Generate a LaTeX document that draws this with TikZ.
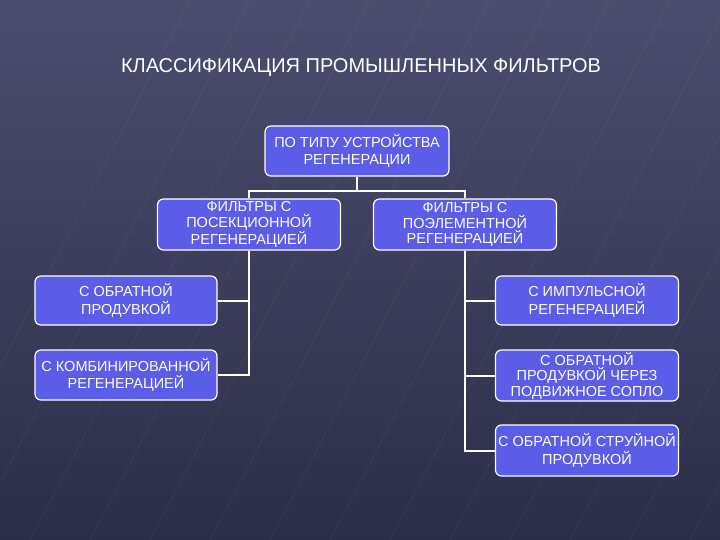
\documentclass[tikz,border=0pt]{standalone}
\usepackage{fontspec}
\setmainfont{Liberation Sans}
\begin{document}
\begin{tikzpicture}[x=1pt,y=-1pt,
  box/.style={draw=white,line width=1.2pt,rounded corners=6pt,fill=boxblue,text=white,
    minimum width=183pt,align=center,font=\fontsize{14.5}{15.5}\selectfont,inner sep=0pt},
  two/.style={font=\fontsize{14.5}{17.5}\selectfont},
  conn/.style={draw=white,line width=2pt}]
\definecolor{boxblue}{HTML}{5B5CE8}
\definecolor{bgtop}{HTML}{4A4D6E}
\definecolor{bgbot}{HTML}{2C2E48}
\shade[top color=bgtop,bottom color=bgbot] (0,0) rectangle (720,540);
\useasboundingbox (0,0) rectangle (720,540);
\foreach \i in {0,...,14}{
  \draw[white,opacity=0.05,line width=0.8pt] (-100+\i*60,560) -- (200+\i*60,-20);}
\node[text=white,font=\fontsize{20}{22}\selectfont] (title) at (361,68) {КЛАССИФИКАЦИЯ ПРОМЫШЛЕННЫХ ФИЛЬТРОВ};
\node[box,two,minimum width=184pt,minimum height=50pt] (top) at (357,151) {ПО ТИПУ УСТРОЙСТВА\\РЕГЕНЕРАЦИИ};
\node[box,minimum height=51pt] (lm) at (249,224.5) {ФИЛЬТРЫ С\\ПОСЕКЦИОННОЙ\\РЕГЕНЕРАЦИЕЙ};
\node[box,minimum height=51pt] (rm) at (465,224.5) {ФИЛЬТРЫ С\\ПОЭЛЕМЕНТНОЙ\\РЕГЕНЕРАЦИЕЙ};
\node[box,two,minimum width=182pt,minimum height=49pt] (l1) at (126,300.5) {С ОБРАТНОЙ\\ПРОДУВКОЙ};
\node[box,two,minimum width=182pt,minimum height=50pt] (l2) at (126,375) {С КОМБИНИРОВАННОЙ\\РЕГЕНЕРАЦИЕЙ};
\node[box,two,minimum height=49pt] (r1) at (587,300.5) {С ИМПУЛЬСНОЙ\\РЕГЕНЕРАЦИЕЙ};
\node[box,minimum height=51pt] (r2) at (587,375.5) {С ОБРАТНОЙ\\ПРОДУВКОЙ ЧЕРЕЗ\\ПОДВИЖНОЕ СОПЛО};
\node[box,two,minimum height=51pt] (r3) at (587,450.5) {С ОБРАТНОЙ СТРУЙНОЙ\\ПРОДУВКОЙ};
\coordinate (j) at (357,191);
\draw[conn] (top.south) -- (j);
\draw[conn] (lm.north) |- (j) -| (rm.north);
\draw[conn] (lm.south) |- (l2.east);
\draw[conn] (lm.south |- l1.east) -- (l1.east);
\draw[conn] (rm.south) |- (r3.west);
\draw[conn] (rm.south |- r1.west) -- (r1.west);
\draw[conn] (rm.south |- r2.west) -- (r2.west);
\end{tikzpicture}
\end{document}
